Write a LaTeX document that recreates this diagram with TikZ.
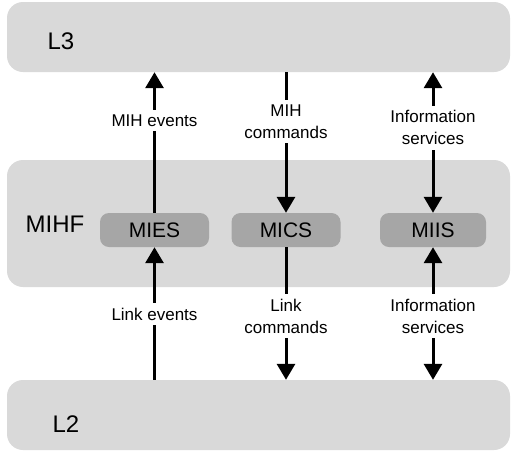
\documentclass[tikz,border=0pt]{standalone}
\usepackage{fontspec}
\setmainfont{Liberation Sans}
\usetikzlibrary{arrows.meta,positioning}

\definecolor{bandgray}{RGB}{217,217,217}
\definecolor{boxgray}{RGB}{166,166,166}

\begin{document}
\begin{tikzpicture}[x=1pt, y=-1pt,
    band/.style={fill=bandgray, rounded corners=16pt, minimum width=503pt, minimum height=70pt},
    sap/.style={fill=boxgray, rounded corners=9pt, minimum width=109pt, minimum height=34pt,
                font=\fontsize{21}{25}\selectfont},
    layer/.style={inner sep=0pt, font=\fontsize{24}{28}\selectfont},
    flow/.style={line width=3pt, -{Triangle[width=18pt,length=16pt]}},
    both/.style={line width=3pt, {Triangle[width=18pt,length=16pt]}-{Triangle[width=18pt,length=16pt]}},
    lbl/.style={fill=white, align=center, inner xsep=2pt, inner ysep=4.5pt,
                font=\fontsize{17}{22}\selectfont}]

\useasboundingbox (0,0) rectangle (511,451);

% ===============================================================
% Layers
% ===============================================================

\node[band] (l3) at (258.5,37) {};
\node[band, minimum height=127pt] (mihf) at (258.5,223.5) {};
\node[band] (l2) at (258.5,415) {};

\node[layer] (l3txt)   at (61,41)  {L3};
\node[layer] (mihftxt) at (55,224) {MIHF};
\node[layer] (l2txt)   at (66,424) {L2};

% MIH services
\node[sap] (mies) at (154.5,230) {MIES};
\node[sap] (mics) at (286,230)   {MICS};
\node[sap, minimum width=106pt] (miis) at (433,230) {MIIS};

% ===============================================================
% Upper flows: MIHF <-> L3
% ===============================================================

\draw[flow] (mies.north) -- (l3.south -| mies.north)
    node[lbl, pos=0.657] (mihev) {MIH events};
\draw[flow] (l3.south -| mics.north) -- (mics.north)
    node[lbl, pos=0.35] (mihcmd) {MIH\\commands};
\draw[both] (l3.south -| miis.north) -- (miis.north)
    node[lbl, pos=0.396] (infoup) {Information\\services};

% ===============================================================
% Lower flows: L2 <-> MIHF
% ===============================================================

\draw[flow] (l2.north -| mies.south) -- (mies.south)
    node[lbl, pos=0.496] (linkev) {Link events};
\draw[flow] (mics.south) -- (l2.north -| mics.south)
    node[lbl, pos=0.52] (linkcmd) {Link\\commands};
\draw[both] (miis.south) -- (l2.north -| miis.south)
    node[lbl, pos=0.52] (infodown) {Information\\services};

\end{tikzpicture}
\end{document}
